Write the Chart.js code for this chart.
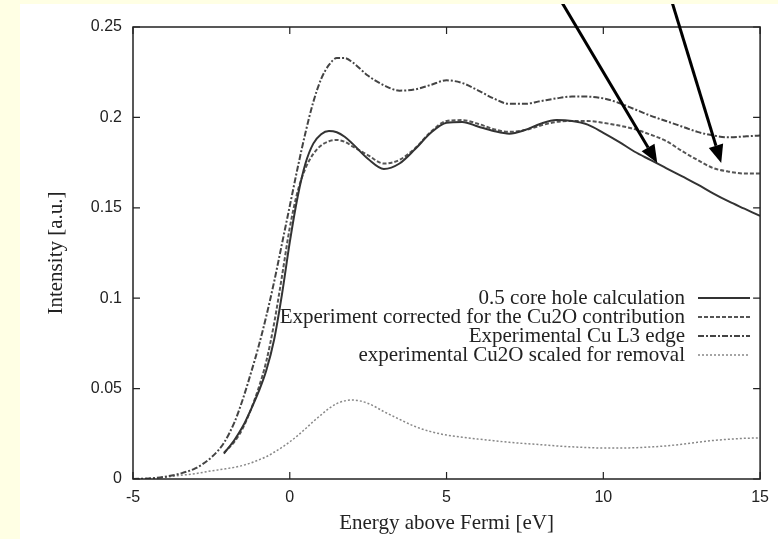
<!DOCTYPE html>
<html>
<head>
  <meta charset="UTF-8">
  <title>Cu L3 edge</title>
  <script src="https://cdn.jsdelivr.net/npm/chart.js"></script>
  <style>
    html, body { margin: 0; padding: 0; }
    body { background: #ffffe4; width: 778px; height: 539px; position: relative; overflow: hidden; }
    #chart { position: absolute; left: 20px; top: 4px; background: #fff; }
  </style>
</head>
<body>
  <canvas id="chart" width="758" height="535"></canvas>

  <script>
    // energy grid (eV above Fermi), finer around the edge
    const energy = [-5, -4.5, -4, -3.5, -3, -2.5, -2.1, -1.75, -1.5, -1.25, -1, -0.75, -0.5, -0.25,
      0, 0.25, 0.5, 0.75, 1, 1.25, 1.5, 1.75, 2, 2.5, 3, 3.5, 4, 4.5, 5, 5.5, 6, 6.5, 7, 7.5,
      8, 8.5, 9, 9.5, 10, 10.5, 11, 11.5, 12, 12.5, 13, 13.5, 14, 14.5, 15];

    const coreHoleCalc = [null, null, null, null, null, null, 0.014, 0.022, 0.029, 0.038, 0.048, 0.060, 0.077, 0.102,
      0.131, 0.156, 0.1745, 0.1855, 0.1907, 0.1925, 0.1918, 0.1893, 0.1855, 0.177, 0.1715, 0.1745, 0.1825, 0.1915, 0.197, 0.1975, 0.195, 0.1925, 0.191, 0.193,
      0.1965, 0.1985, 0.198, 0.196, 0.1915, 0.1865, 0.181, 0.1765, 0.172, 0.1675, 0.163, 0.158, 0.1535, 0.1495, 0.1455];

    const expCorrected = [null, null, null, null, null, null, 0.0145, 0.021, 0.028, 0.038, 0.050, 0.065, 0.086, 0.112,
      0.139, 0.159, 0.1718, 0.1798, 0.1845, 0.1868, 0.1875, 0.1865, 0.184, 0.179, 0.1745, 0.1765, 0.183, 0.192, 0.198, 0.1985, 0.1965, 0.1935, 0.192, 0.193,
      0.1955, 0.1975, 0.198, 0.198, 0.197, 0.1955, 0.1935, 0.1905, 0.187, 0.1815, 0.1765, 0.172, 0.170, 0.169, 0.169];

    const expL3 = [0, 0.0003, 0.0012, 0.003, 0.006, 0.012, 0.020, 0.032, 0.044, 0.058, 0.073, 0.090, 0.109, 0.130,
      0.151, 0.172, 0.1915, 0.2085, 0.2212, 0.229, 0.2328, 0.2328, 0.2305, 0.223, 0.2178, 0.2148, 0.2155, 0.218, 0.2205, 0.219, 0.215, 0.2105, 0.2075, 0.2075,
      0.209, 0.2105, 0.2115, 0.2115, 0.2105, 0.208, 0.2045, 0.201, 0.198, 0.195, 0.192, 0.190, 0.189, 0.1895, 0.190];

    const cu2oScaled = [0, 0.0004, 0.001, 0.002, 0.003, 0.0045, 0.0055, 0.0065, 0.0075, 0.0088, 0.0105, 0.0123, 0.0148, 0.0175,
      0.0205, 0.024, 0.0278, 0.0318, 0.0355, 0.039, 0.0417, 0.0432, 0.0437, 0.0418, 0.0373, 0.033, 0.029, 0.0262, 0.0243, 0.0231, 0.0221, 0.0212, 0.0203, 0.0196,
      0.019, 0.0183, 0.0178, 0.0174, 0.0171, 0.0171, 0.0173, 0.0177, 0.0183, 0.0192, 0.0203, 0.0213, 0.022, 0.0225, 0.0227];

    const xTicks = [-5, 0, 5, 10, 15];
    const yTicks = [0, 0.05, 0.1, 0.15, 0.2, 0.25];

    // arrows: [from, to] in data coordinates
    const arrows = [
      [[8.69, 0.2633], [11.72, 0.1748]],
      [[12.17, 0.265], [13.76, 0.1748]]
    ];

    function pts(values) {
      return energy.map((e, i) => ({ x: e, y: values[i] }));
    }

    const serif = '"Liberation Serif", "Times New Roman", serif';
    const sans = '"Liberation Sans", Arial, sans-serif';

    const framePlugin = {
      id: 'frame',
      afterDatasetsDraw(chart) {
        const { ctx, chartArea: a, scales: { x, y } } = chart;
        ctx.save();
        ctx.strokeStyle = '#222';
        ctx.lineWidth = 1.5;
        ctx.strokeRect(a.left, a.top, a.right - a.left, a.bottom - a.top);
        ctx.lineWidth = 1.2;
        ctx.beginPath();
        xTicks.forEach(v => {
          const px = x.getPixelForValue(v);
          ctx.moveTo(px, a.bottom); ctx.lineTo(px, a.bottom - 7);
          ctx.moveTo(px, a.top); ctx.lineTo(px, a.top + 7);
        });
        yTicks.forEach(v => {
          const py = y.getPixelForValue(v);
          ctx.moveTo(a.left, py); ctx.lineTo(a.left + 7, py);
          ctx.moveTo(a.right, py); ctx.lineTo(a.right - 7, py);
        });
        ctx.stroke();

        // key, gnuplot style: right aligned text, sample on the right
        ctx.font = '21px ' + serif;
        ctx.textAlign = 'right';
        ctx.textBaseline = 'middle';
        chart.data.datasets.forEach((ds, i) => {
          const ly = 294 + 19 * i;
          ctx.fillStyle = '#222';
          ctx.fillText(ds.label, 665, ly);
          ctx.save();
          ctx.strokeStyle = ds.borderColor;
          ctx.lineWidth = ds.borderWidth;
          ctx.setLineDash(ds.borderDash || []);
          ctx.beginPath();
          ctx.moveTo(678, ly); ctx.lineTo(730, ly);
          ctx.stroke();
          ctx.restore();
        });

        // arrows
        ctx.strokeStyle = '#000';
        ctx.fillStyle = '#000';
        ctx.lineWidth = 3;
        arrows.forEach(([p0, p1]) => {
          const x0 = x.getPixelForValue(p0[0]), y0 = y.getPixelForValue(p0[1]);
          const x1 = x.getPixelForValue(p1[0]), y1 = y.getPixelForValue(p1[1]);
          const ang = Math.atan2(y1 - y0, x1 - x0);
          const hl = 18, hw = 7.5;
          const bx = x1 - hl * Math.cos(ang), by = y1 - hl * Math.sin(ang);
          ctx.beginPath();
          ctx.moveTo(x0, y0); ctx.lineTo(bx, by);
          ctx.stroke();
          ctx.beginPath();
          ctx.moveTo(x1, y1);
          ctx.lineTo(bx + hw * Math.sin(ang), by - hw * Math.cos(ang));
          ctx.lineTo(bx - hw * Math.sin(ang), by + hw * Math.cos(ang));
          ctx.closePath();
          ctx.fill();
        });
        ctx.restore();
      }
    };

    const ctx = document.getElementById('chart').getContext('2d');
    new Chart(ctx, {
      type: 'line',
      data: {
        datasets: [
          { label: '0.5 core hole calculation', data: pts(coreHoleCalc),
            borderColor: '#333', borderWidth: 2 },
          { label: 'Experiment corrected for the Cu2O contribution', data: pts(expCorrected),
            borderColor: '#555', borderWidth: 2, borderDash: [4, 2] },
          { label: 'Experimental Cu L3 edge', data: pts(expL3),
            borderColor: '#444', borderWidth: 2, borderDash: [6, 2, 2, 2] },
          { label: 'experimental Cu2O scaled for removal', data: pts(cu2oScaled),
            borderColor: '#888', borderWidth: 1.5, borderDash: [2, 2] }
        ]
      },
      options: {
        responsive: false,
        animation: false,
        devicePixelRatio: 1,
        layout: { padding: { top: 23, right: 17, left: 0, bottom: 0 } },
        elements: {
          point: { radius: 0 },
          line: { cubicInterpolationMode: 'monotone', fill: false }
        },
        plugins: {
          legend: { display: false },
          tooltip: { enabled: false }
        },
        scales: {
          x: {
            type: 'linear', min: -5, max: 15,
            afterBuildTicks: s => { s.ticks = xTicks.map(v => ({ value: v })); },
            afterFit: s => { s.height = 60; },
            grid: { display: false, drawTicks: false },
            border: { display: false },
            ticks: { padding: 9, color: '#222', font: { family: sans, size: 16 } },
            title: { display: true, text: 'Energy above Fermi [eV]', color: '#222',
              font: { family: serif, size: 21 }, padding: { top: 0, bottom: 3 } }
          },
          y: {
            min: 0, max: 0.25,
            afterBuildTicks: s => { s.ticks = yTicks.map(v => ({ value: v })); },
            afterFit: s => { s.width = 113; },
            grid: { display: false, drawTicks: false },
            border: { display: false },
            ticks: { padding: 11, color: '#222', font: { family: sans, size: 16 },
              callback: v => String(+v.toFixed(2)) },
            title: { display: true, text: 'Intensity [a.u.]', color: '#222',
              font: { family: serif, size: 21 }, padding: { top: 24, bottom: 0 } }
          }
        }
      },
      plugins: [framePlugin]
    });
  </script>
</body>
</html>
